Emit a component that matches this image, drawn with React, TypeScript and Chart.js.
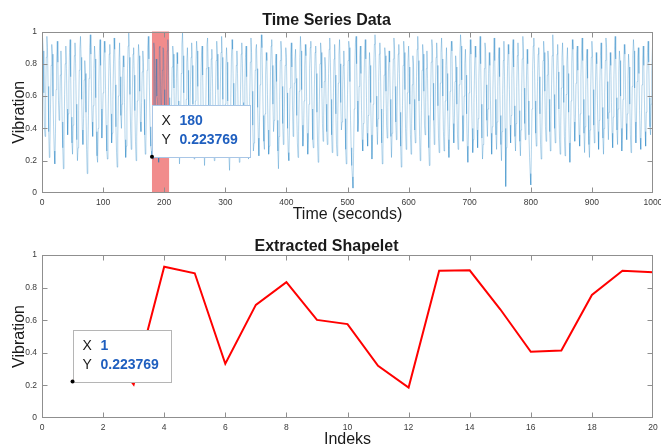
import React, { useEffect, useRef } from "react";
import { Chart, registerables } from "chart.js";

Chart.register(...registerables);

const seriesTitle = "Time Series Data";
const seriesXLabel = "Time (seconds)";
const shapeletTitle = "Extracted Shapelet";
const shapeletXLabel = "Indeks";
const yLabel = "Vibration";

// vibration signal, in percent, samples at t = 1..1000
const vibrationPct = [
  96,88,62,40,35,58,84,97,90,66,38,22,30,55,79,92,86,60,41,26,18,37,64,83,94,81,57,45,52,73,88,70,44,28,15,33,61,80,91,77,52,36,49,68,87,95,72,47,31,24,
  42,69,85,93,80,55,33,20,28,51,76,89,97,84,58,39,30,46,70,82,74,50,27,12,25,48,71,90,98,86,63,44,35,54,77,91,83,59,38,23,19,40,66,88,95,79,52,34,45,62,
  81,94,87,64,42,26,21,43,68,86,92,75,49,31,37,58,80,96,89,67,41,25,16,34,60,82,93,72,48,40,55,74,85,78,56,33,22,29,50,77,91,99,84,61,39,27,44,65,86,90,
  73,51,32,20,35,57,79,92,85,63,44,38,56,75,88,81,58,36,24,31,52,76,90,97,83,60,41,29,26,22,45,21,93,89,33,69,83,60,58,32,19,90,91,67,41,41,76,90,89,64,
  40,28,47,70,88,95,82,59,37,23,30,53,78,91,86,65,43,33,48,71,87,80,57,35,18,27,50,74,92,99,85,62,39,26,36,58,81,90,76,54,41,49,67,84,93,79,55,32,21,34,
  57,80,94,88,66,44,29,24,46,69,85,91,73,50,30,17,28,52,77,92,96,78,53,36,42,63,83,89,71,47,27,20,38,61,82,94,86,64,43,31,45,68,87,97,84,58,35,25,33,55,
  78,90,81,57,36,22,14,32,59,83,95,89,68,46,34,41,62,79,88,74,51,30,19,37,64,86,93,80,56,40,47,66,84,91,72,49,28,21,39,60,81,96,87,63,42,26,31,54,76,89,
  92,77,53,34,23,44,67,85,98,90,70,48,32,27,49,73,87,82,61,39,24,29,51,75,91,95,79,55,38,45,64,80,86,69,45,26,15,35,58,82,94,88,66,43,30,37,60,79,90,84,
  62,40,25,20,41,65,86,93,78,54,35,46,68,83,89,71,48,31,22,38,63,84,97,88,64,42,29,36,57,78,92,85,60,37,24,33,55,77,90,94,76,52,33,28,47,70,87,91,74,50,
  31,19,34,58,80,93,87,65,43,32,48,69,84,77,55,38,30,52,74,89,96,81,58,36,25,40,62,83,92,73,49,30,23,45,68,86,95,80,56,39,44,63,79,88,70,46,27,18,36,61,
  82,94,90,69,45,28,17,10,3,25,52,78,93,97,80,57,38,44,66,85,91,74,51,33,26,43,67,88,95,83,59,37,29,48,71,87,79,56,36,21,32,55,77,92,98,84,60,41,30,46,
  69,86,93,76,52,31,18,27,50,73,90,85,63,42,34,53,75,88,81,58,35,22,37,61,83,96,89,66,44,33,49,70,86,92,74,50,29,16,30,54,79,94,87,64,40,27,38,62,81,91,
  78,55,36,24,43,67,85,80,58,39,31,50,72,89,97,82,57,35,20,28,51,76,92,86,63,42,36,56,77,88,71,48,28,17,33,59,81,95,90,68,45,30,41,64,84,93,79,54,34,25,
  44,68,87,96,83,60,38,26,35,57,79,90,74,51,33,22,40,63,84,94,88,65,43,31,47,69,85,78,55,36,27,45,67,86,98,91,70,48,32,39,60,80,89,73,49,29,19,37,62,83,
  95,86,62,40,25,33,56,78,91,84,61,39,28,46,70,88,97,80,55,34,21,30,53,77,93,89,67,45,35,52,74,87,79,57,37,24,41,64,85,96,82,58,36,27,44,66,83,90,72,48,
  30,20,38,61,82,94,72,40,4,28,55,79,92,86,64,42,31,48,71,88,95,78,54,35,26,43,66,85,93,75,51,32,23,39,62,83,97,88,65,43,33,50,73,89,80,57,36,22,12,5,
  27,52,76,91,96,80,57,37,29,47,69,86,90,72,49,30,21,36,60,82,94,87,63,41,32,51,73,88,81,58,38,26,44,67,85,98,84,61,40,31,48,70,86,92,75,52,33,24,42,65,
  84,93,79,56,35,23,38,61,81,90,74,50,31,19,33,57,80,95,89,67,44,32,46,68,86,91,76,53,36,29,49,72,88,96,82,58,37,25,41,64,83,89,71,48,30,22,39,63,84,94,
  86,64,42,31,48,70,87,80,58,38,27,45,68,85,93,77,53,34,24,40,62,82,96,90,69,46,33,50,73,87,79,56,37,28,47,71,89,97,83,59,39,30,52,75,88,82,60,40,26,35,
  58,80,92,86,64,43,33,49,71,86,78,55,36,25,42,66,85,95,88,65,44,31,47,69,84,90,74,51,34,27,45,67,83,91,79,57,38,29,50,73,87,94,81,59,41,36,55,76,89,97,
];

const shapeletIndex = [1,2,3,4,5,6,7,8,9,10,11,12,13,14,15,16,17,18,19,20];
const shapeletValues = [0.223769,0.45,0.205,0.928,0.888,0.333,0.694,0.833,0.602,0.576,0.32,0.187,0.904,0.906,0.667,0.406,0.414,0.755,0.904,0.894];

const highlightStart = 180;
const highlightEnd = 208;

const seriesTipX = 180;
const shapeletTipX = 1;
const tipY = 0.223769;
const tipYText = "0.223769";

const FONT = "'Liberation Sans', Arial, Helvetica, sans-serif";
const TICK_COLOR = "#3a3a3a";
const FRAME_COLOR = "#8f8f8f";

const framePlugin = {
  id: "frame",
  afterDatasetsDraw(chart: any) {
    const { ctx, chartArea: a, scales } = chart;
    const x = scales.x;
    const y = scales.y;
    const L = 5;
    ctx.save();
    ctx.strokeStyle = FRAME_COLOR;
    ctx.lineWidth = 1;
    const l = Math.round(a.left) + 0.5;
    const r = Math.round(a.right) - 0.5;
    const t = Math.round(a.top) + 0.5;
    const b = Math.round(a.bottom) - 0.5;
    ctx.strokeRect(l, t, r - l, b - t);
    ctx.beginPath();
    x.ticks.forEach((tk: any) => {
      const px = Math.round(x.getPixelForValue(tk.value)) + 0.5;
      if (px <= l + 1 || px >= r - 1) return;
      ctx.moveTo(px, b);
      ctx.lineTo(px, b - L);
      ctx.moveTo(px, t);
      ctx.lineTo(px, t + L);
    });
    y.ticks.forEach((tk: any) => {
      const py = Math.round(y.getPixelForValue(tk.value)) + 0.5;
      if (py <= t + 1 || py >= b - 1) return;
      ctx.moveTo(l, py);
      ctx.lineTo(l + L, py);
      ctx.moveTo(r, py);
      ctx.lineTo(r - L, py);
    });
    ctx.stroke();
    ctx.restore();
  },
};

const highlightPlugin = {
  id: "highlight",
  beforeDatasetsDraw(chart: any, _args: any, opts: any) {
    if (!opts || opts.start == null) return;
    const { ctx, chartArea: a, scales } = chart;
    const x0 = scales.x.getPixelForValue(opts.start);
    const x1 = scales.x.getPixelForValue(opts.end);
    ctx.save();
    ctx.fillStyle = "rgba(236, 96, 96, 0.72)";
    ctx.fillRect(x0, a.top, x1 - x0, a.bottom - a.top);
    ctx.restore();
  },
};

const datatipPlugin = {
  id: "datatip",
  afterDraw(chart: any, _args: any, opts: any) {
    if (!opts || opts.x == null) return;
    const { ctx, scales } = chart;
    const px = scales.x.getPixelForValue(opts.x);
    const py = scales.y.getPixelForValue(opts.y);
    const w = 98;
    const h = 52;
    const bx = Math.round(px) + 0.5;
    const by = Math.round(py - h) + 0.5;
    ctx.save();
    ctx.fillStyle = "#ffffff";
    ctx.fillRect(bx, by, w, h);
    ctx.strokeStyle = opts.border;
    ctx.lineWidth = 1;
    ctx.strokeRect(bx, by, w, h);
    ctx.textBaseline = "middle";
    ctx.textAlign = "left";
    ctx.fillStyle = "#1a1a1a";
    ctx.font = `14px ${FONT}`;
    ctx.fillText("X", bx + 9, by + 16);
    ctx.fillText("Y", bx + 9, by + 35);
    ctx.fillStyle = "#1f5fbf";
    ctx.font = `bold 14px ${FONT}`;
    ctx.fillText(opts.xText, bx + 27, by + 16);
    ctx.fillText(opts.yText, bx + 27, by + 35);
    ctx.fillStyle = "#000000";
    ctx.beginPath();
    ctx.arc(px, py, 2, 0, Math.PI * 2);
    ctx.fill();
    ctx.restore();
  },
};

function makeOptions(p: {
  title: string;
  titlePadTop: number;
  titlePadBottom: number;
  xLabel: string;
  xMax: number;
  xStep: number;
  xHeight: number;
  xTitlePadBottom: number;
  highlight?: { start: number; end: number };
  tip: any;
}) {
  return {
    animation: false,
    responsive: false,
    maintainAspectRatio: false,
    events: [],
    layout: { padding: { left: 0, right: 8, top: 0, bottom: 0 } },
    plugins: {
      legend: { display: false },
      tooltip: { enabled: false },
      title: {
        display: true,
        text: p.title,
        color: "#1a1a1a",
        font: { family: FONT, size: 16, weight: "bold", lineHeight: 1 },
        padding: { top: p.titlePadTop, bottom: p.titlePadBottom },
      },
      highlight: p.highlight || {},
      datatip: p.tip,
    },
    scales: {
      x: {
        type: "linear",
        min: 0,
        max: p.xMax,
        grid: { display: false, drawTicks: false },
        border: { display: false },
        ticks: {
          stepSize: p.xStep,
          autoSkip: false,
          maxRotation: 0,
          padding: 5,
          color: TICK_COLOR,
          font: { family: FONT, size: 8.5 },
          callback: (v: any) => String(v),
        },
        title: {
          display: true,
          text: p.xLabel,
          color: "#1a1a1a",
          font: { family: FONT, size: 16, lineHeight: 1 },
          padding: { top: 0, bottom: p.xTitlePadBottom },
        },
        afterFit: (s: any) => {
          s.height = p.xHeight;
          s.paddingLeft = 0;
          s.paddingRight = 0;
        },
      },
      y: {
        type: "linear",
        min: 0,
        max: 1,
        grid: { display: false, drawTicks: false },
        border: { display: false },
        ticks: {
          stepSize: 0.2,
          padding: 5,
          color: TICK_COLOR,
          font: { family: FONT, size: 8.5 },
          callback: (v: any) => String(Math.round(v * 10) / 10),
        },
        title: {
          display: true,
          text: yLabel,
          color: "#1a1a1a",
          font: { family: FONT, size: 16, lineHeight: 1 },
          padding: { top: 12, bottom: 0 },
        },
        afterFit: (s: any) => {
          s.width = 42;
          s.paddingTop = 0;
          s.paddingBottom = 0;
        },
      },
    },
  } as any;
}

export default function App() {
  const topRef = useRef<HTMLCanvasElement | null>(null);
  const botRef = useRef<HTMLCanvasElement | null>(null);

  useEffect(() => {
    const top = new Chart(topRef.current as HTMLCanvasElement, {
      type: "line",
      data: {
        datasets: [
          {
            data: vibrationPct.map((v, i) => ({ x: i + 1, y: v / 100 })),
            borderColor: "rgba(0, 114, 189, 0.6)",
            borderWidth: 0.5,
            pointRadius: 0,
            fill: false,
            tension: 0,
          },
        ],
      },
      options: makeOptions({
        title: seriesTitle,
        titlePadTop: 12.5,
        titlePadBottom: 3,
        xLabel: seriesXLabel,
        xMax: 1000,
        xStep: 100,
        xHeight: 29,
        xTitlePadBottom: -1,
        highlight: { start: highlightStart, end: highlightEnd },
        tip: { x: seriesTipX, y: tipY, xText: String(seriesTipX), yText: tipYText, border: "#a9c6e6" },
      }),
      plugins: [highlightPlugin, framePlugin, datatipPlugin],
    } as any);

    const bot = new Chart(botRef.current as HTMLCanvasElement, {
      type: "line",
      data: {
        datasets: [
          {
            data: shapeletIndex.map((x, i) => ({ x, y: shapeletValues[i] })),
            borderColor: "#ff0000",
            borderWidth: 2,
            pointRadius: 0,
            fill: false,
            tension: 0,
          },
        ],
      },
      options: makeOptions({
        title: shapeletTitle,
        titlePadTop: 17,
        titlePadBottom: 0,
        xLabel: shapeletXLabel,
        xMax: 20,
        xStep: 2,
        xHeight: 32,
        xTitlePadBottom: 2.5,
        tip: { x: shapeletTipX, y: tipY, xText: String(shapeletTipX), yText: tipYText, border: "#b5b5b5" },
      }),
      plugins: [framePlugin, datatipPlugin],
    } as any);

    return () => {
      top.destroy();
      bot.destroy();
    };
  }, []);

  return (
    <div
      style={{
        position: "absolute",
        left: 0,
        top: 0,
        width: 661,
        height: 445,
        overflow: "hidden",
        background: "#ffffff",
      }}
    >
      <canvas
        ref={topRef}
        width={661}
        height={222}
        style={{ position: "absolute", left: 0, top: 0, width: 661, height: 222 }}
      />
      <canvas
        ref={botRef}
        width={661}
        height={228}
        style={{ position: "absolute", left: 0, top: 222, width: 661, height: 228 }}
      />
    </div>
  );
}
